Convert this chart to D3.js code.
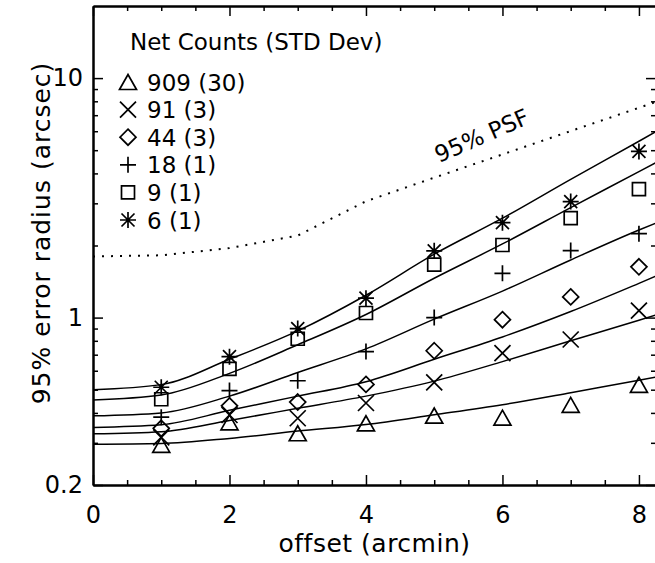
<!DOCTYPE html>
<html><head><meta charset="utf-8">
<script src="https://cdn.jsdelivr.net/npm/d3@7"></script>
<style>
html,body{margin:0;padding:0;background:#fff;}
text{font-family:"DejaVu Sans",sans-serif;fill:#000;}
</style></head>
<body><svg id="c" width="655" height="563"></svg>
<script>
// ---- data ----
const offsets = [1, 2, 3, 4, 5, 6, 7, 8];
const legendTitle = "Net Counts (STD Dev)";
const seriesLabels = ["909 (30)", "91 (3)", "44 (3)", "18 (1)", "9 (1)", "6 (1)"];
const seriesSymbols = ["triangle", "x", "diamond", "plus", "square", "asterisk"];
const pts909 = [0.294, 0.365, 0.329, 0.362, 0.390, 0.382, 0.432, 0.524];
const pts91  = [0.316, 0.392, 0.380, 0.440, 0.536, 0.710, 0.810, 1.07];
const pts44  = [0.345, 0.428, 0.444, 0.526, 0.727, 0.980, 1.22, 1.63];
const pts18  = [0.384, 0.496, 0.545, 0.721, 1.00, 1.53, 1.905, 2.24];
const pts9   = [0.456, 0.611, 0.816, 1.045, 1.665, 2.01, 2.60, 3.44];
const pts6   = [0.512, 0.687, 0.900, 1.205, 1.90, 2.49, 3.05, 4.94];
const fitX   = [0, 1, 2, 3, 4, 5, 6, 7, 8, 8.25];
const fit909 = [0.296, 0.298, 0.313, 0.336, 0.358, 0.393, 0.433, 0.486, 0.548, 0.564];
const fit91  = [0.327, 0.334, 0.372, 0.418, 0.470, 0.543, 0.655, 0.800, 0.975, 1.026];
const fit44  = [0.348, 0.357, 0.410, 0.470, 0.540, 0.670, 0.830, 1.06, 1.39, 1.49];
const fit18  = [0.389, 0.400, 0.470, 0.590, 0.740, 0.985, 1.29, 1.74, 2.32, 2.48];
const fit9   = [0.453, 0.475, 0.585, 0.770, 1.03, 1.46, 2.03, 2.88, 4.07, 4.44];
const fit6   = [0.500, 0.525, 0.670, 0.880, 1.24, 1.84, 2.60, 3.78, 5.45, 5.98];
const psfX   = [0, 1, 2, 3, 4, 5, 6, 7, 8, 8.25];
const psf    = [1.80, 1.82, 1.95, 2.20, 3.06, 3.84, 4.80, 6.01, 7.52, 7.95];
const psfLabel = "95% PSF";
const xMajor = [0, 2, 4, 6, 8];
const xMinor = [0.5, 1, 1.5, 2.5, 3, 3.5, 4.5, 5, 5.5, 6.5, 7, 7.5];
const yMajor = [0.2, 1, 10];
const yMajorLabels = ["0.2", "1", "10"];
const yMinor = [0.3, 0.4, 0.5, 0.6, 0.7, 0.8, 0.9, 2, 3, 4, 5, 6, 7, 8, 9];
const xTitle = "offset (arcmin)";
const yTitle = "95% error radius (arcsec)";

const pointSeries = [pts909, pts91, pts44, pts18, pts9, pts6];
const fitSeries = [fit909, fit91, fit44, fit18, fit9, fit6];

// ---- layout ----
const svg = d3.select("#c");
const L = 93, R = 656, T = 6, B = 485;
const x = d3.scaleLinear().domain([0, 8.25]).range([L, R]);
const y = d3.scaleLog().domain([0.2, 20]).range([B, T]);

const plot = svg.append("g");
svg.append("defs").append("clipPath").attr("id", "clip")
  .append("rect").attr("x", L).attr("y", T).attr("width", R - L).attr("height", B - T);

// PSF dotted line
plot.append("path")
  .datum(psfX.map((d, i) => [d, psf[i]]))
  .attr("clip-path", "url(#clip)")
  .attr("fill", "none").attr("stroke", "#000").attr("stroke-width", 2)
  .attr("stroke-dasharray", "2,7")
  .attr("d", d3.line().x(d => x(d[0])).y(d => y(d[1])));

// fitted curves
const line = d3.line().x(d => x(d[0])).y(d => y(d[1])).curve(d3.curveMonotoneX);
fitSeries.forEach(s => {
  plot.append("path")
    .datum(fitX.map((d, i) => [d, s[i]]))
    .attr("clip-path", "url(#clip)")
    .attr("fill", "none").attr("stroke", "#000").attr("stroke-width", 1.5)
    .attr("d", line);
});

// symbols
function symbolPath(type) {
  const p = d3.path();
  if (type === "triangle") { p.moveTo(-8.5, 7.5); p.lineTo(0, -7.5); p.lineTo(8.5, 7.5); p.closePath(); }
  else if (type === "x") { p.moveTo(-8, -8); p.lineTo(8, 8); p.moveTo(-8, 8); p.lineTo(8, -8); }
  else if (type === "diamond") { p.moveTo(0, -8); p.lineTo(8, 0); p.lineTo(0, 8); p.lineTo(-8, 0); p.closePath(); }
  else if (type === "plus") { p.moveTo(-8, 0); p.lineTo(8, 0); p.moveTo(0, -8); p.lineTo(0, 8); }
  else if (type === "square") { p.rect(-6.5, -6.5, 13, 13); }
  else if (type === "asterisk") {
    p.moveTo(-8, 0); p.lineTo(8, 0); p.moveTo(0, -8); p.lineTo(0, 8);
    p.moveTo(-6.5, -6.5); p.lineTo(6.5, 6.5); p.moveTo(-6.5, 6.5); p.lineTo(6.5, -6.5);
  }
  return p.toString();
}
pointSeries.forEach((s, k) => {
  plot.selectAll(null).data(offsets.map((d, i) => [d, s[i]])).enter()
    .append("path")
    .attr("transform", d => `translate(${x(d[0])},${y(d[1])})`)
    .attr("d", symbolPath(seriesSymbols[k]))
    .attr("fill", "none").attr("stroke", "#000").attr("stroke-width", 1.7);
});

// axes
function styleAxis(g) {
  g.selectAll(".domain").attr("stroke", "#000").attr("stroke-width", 2);
  g.selectAll(".tick line").attr("stroke", "#000").attr("stroke-width", 1.5);
  g.selectAll("text").style("font-family", '"DejaVu Sans", sans-serif').style("font-size", "24px").attr("fill", "#000");
}
svg.append("g").attr("transform", `translate(0,${B})`)
  .call(d3.axisBottom(x).tickValues(xMajor).tickSize(-10).tickSizeOuter(0).tickPadding(21).tickFormat(d3.format("d")))
  .call(styleAxis);
svg.append("g").attr("transform", `translate(0,${B})`)
  .call(d3.axisBottom(x).tickValues(xMinor).tickSize(-5).tickSizeOuter(0).tickFormat(""))
  .call(styleAxis);
svg.append("g").attr("transform", `translate(0,${T})`)
  .call(d3.axisTop(x).tickValues(xMajor).tickSize(-10).tickSizeOuter(0).tickFormat(""))
  .call(styleAxis);
svg.append("g").attr("transform", `translate(0,${T})`)
  .call(d3.axisTop(x).tickValues(xMinor).tickSize(-5).tickSizeOuter(0).tickFormat(""))
  .call(styleAxis);
svg.append("g").attr("transform", `translate(${L},0)`)
  .call(d3.axisLeft(y).tickValues(yMajor).tickSize(-10).tickSizeOuter(0).tickPadding(10)
    .tickFormat((d, i) => yMajorLabels[i]))
  .call(styleAxis);
svg.append("g").attr("transform", `translate(${L},0)`)
  .call(d3.axisLeft(y).tickValues(yMinor).tickSize(-5).tickSizeOuter(0).tickFormat(""))
  .call(styleAxis);
svg.append("g").attr("transform", `translate(${R},0)`)
  .call(d3.axisRight(y).tickValues(yMajor).tickSize(-10).tickSizeOuter(0).tickFormat(""))
  .call(styleAxis);
svg.append("g").attr("transform", `translate(${R},0)`)
  .call(d3.axisRight(y).tickValues(yMinor).tickSize(-5).tickSizeOuter(0).tickFormat(""))
  .call(styleAxis);

// axis titles
svg.append("text").attr("x", (L + R) / 2).attr("y", 552).attr("text-anchor", "middle")
  .style("font-size", "25px").style("letter-spacing", "0.5px").text(xTitle);
svg.append("text").attr("transform", "translate(50,233) rotate(-90)").attr("text-anchor", "middle")
  .style("font-size", "25px").style("letter-spacing", "1px").text(yTitle);

// PSF label
svg.append("text").attr("transform", "translate(485,143) rotate(-23.6)").attr("text-anchor", "middle")
  .style("font-size", "23px").text(psfLabel);

// legend
svg.append("text").attr("x", 130).attr("y", 50).style("font-size", "23px").text(legendTitle);
const legY = d3.scaleLinear().domain([0, 5]).range([82, 220]);
seriesLabels.forEach((lab, i) => {
  svg.append("path").attr("transform", `translate(128,${legY(i)})`)
    .attr("d", symbolPath(seriesSymbols[i]))
    .attr("fill", "none").attr("stroke", "#000").attr("stroke-width", 1.7);
  svg.append("text").attr("x", 147).attr("y", legY(i) + 8.5).style("font-size", "23px").text(lab);
});
</script></body></html>
